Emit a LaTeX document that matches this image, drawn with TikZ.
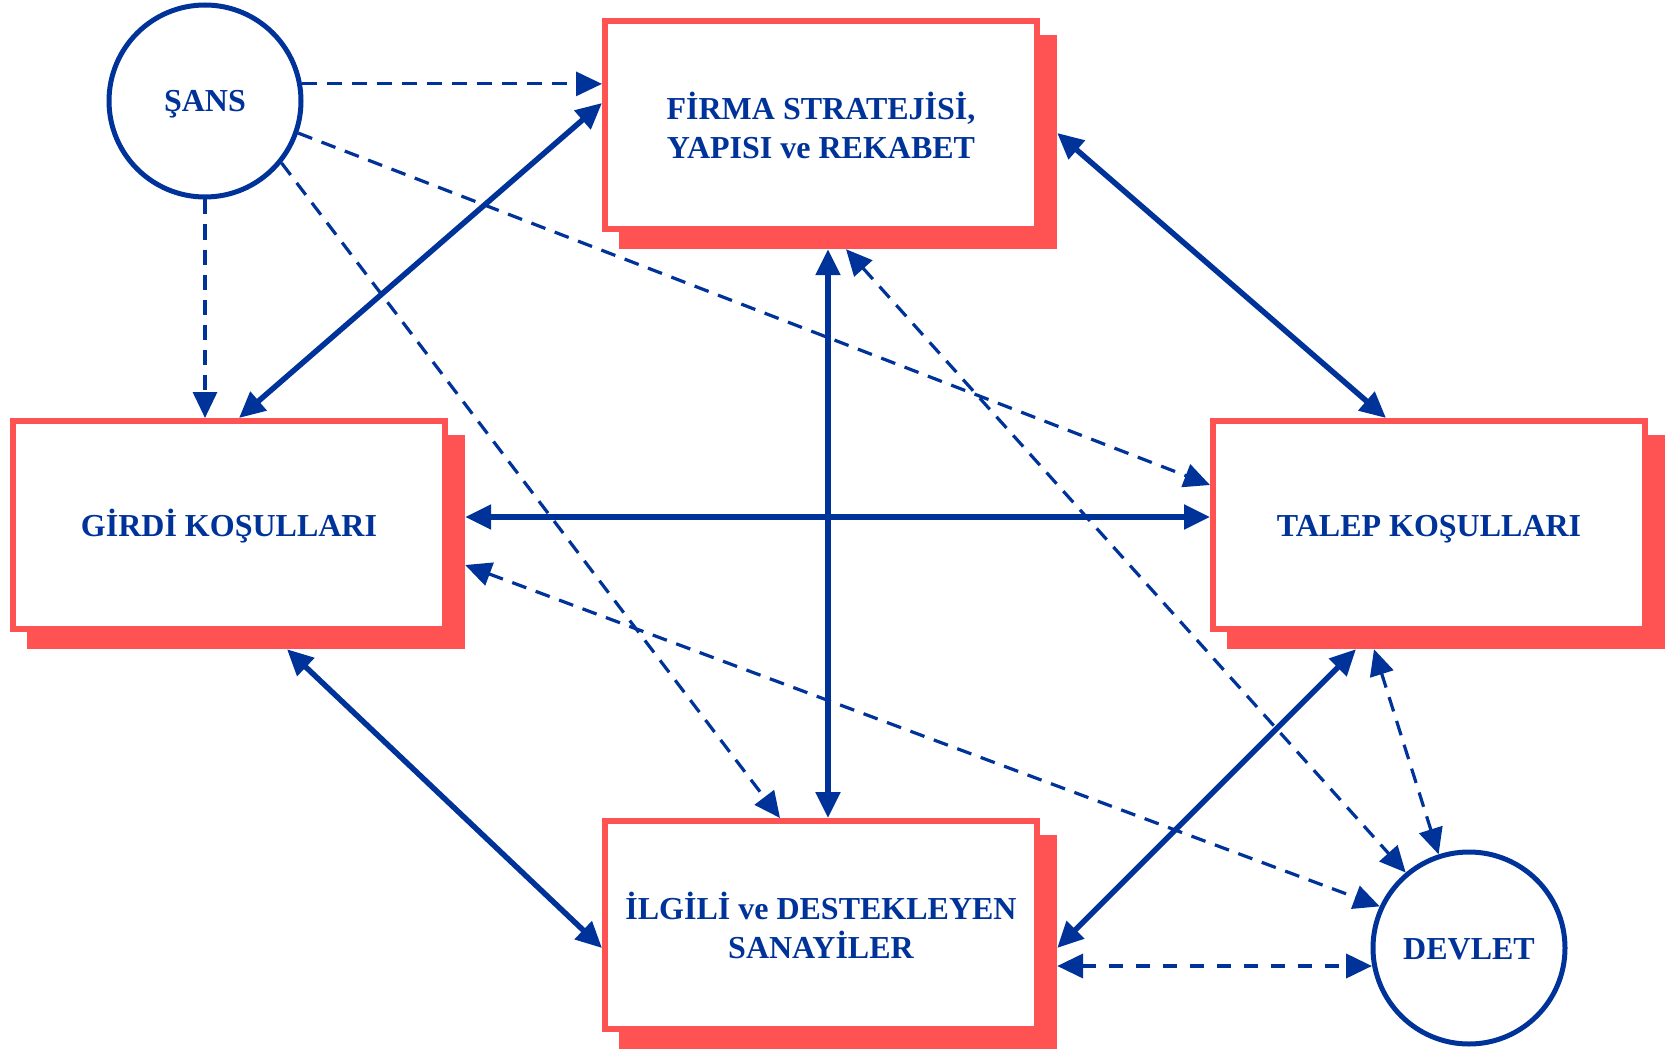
\documentclass[tikz,border=0pt]{standalone}
\usepackage{fontspec}
\setmainfont{Liberation Serif}
\usetikzlibrary{arrows.meta,calc}
\definecolor{dblue}{RGB}{0,51,153}
\definecolor{lred}{RGB}{255,82,82}
\begin{document}
\begin{tikzpicture}[x=1pt,y=-1pt,
  lbl/.style={text=dblue,align=center,font=\fontsize{32}{39}\selectfont\bfseries},
  oneline/.style={text height=22pt,text depth=0pt},
  box/.style={lbl,draw=lred,line width=6pt,fill=white,minimum width=432pt,minimum height=208pt,inner sep=0pt},
  boxshade/.style={fill=lred,minimum width=438pt,minimum height=214pt,inner sep=0pt},
  circ/.style={lbl,oneline,circle,draw=dblue,line width=5pt,fill=white,minimum size=192pt,inner sep=0pt},
  tip/.tip={Triangle[length=26pt,width=24pt]},
  solidboth/.style={draw=dblue,line width=5.5pt,tip-tip},
  dashone/.style={draw=dblue,line width=3.2pt,dash pattern=on 15pt off 10pt,-tip},
  dashboth/.style={draw=dblue,line width=3.2pt,dash pattern=on 15pt off 10pt,tip-tip}
]
\useasboundingbox (0,0) rectangle (1665,1051);
\fill[white] (0,0) rectangle (1665,1051);

% shadows
\node[boxshade] (firmaS)  at (838,142) {};
\node[boxshade] (girdiS)  at (246,542) {};
\node[boxshade] (talepS)  at (1446,542) {};
\node[boxshade] (ilgiliS) at (838,942) {};

% boxes
\node[box] (firma)  at (821,125) {FİRMA STRATEJİSİ,\\YAPISI ve REKABET};
\node[box,oneline] (girdi)  at (229,525) {GİRDİ KOŞULLARI};
\node[box,oneline] (talep)  at (1429,525) {TALEP KOŞULLARI};
\node[box] (ilgili) at (821,925) {İLGİLİ ve DESTEKLEYEN\\SANAYİLER};

% circles
\node[circ] (sans)   at (205,101) {ŞANS};
\node[circ] (devlet) at (1469,948) {DEVLET};

% chance arrows
\draw[dashone] (sans.10) -- (sans.10 -| firma.west);
\draw[dashone] (sans.south) -- (sans.south |- girdi.north);
\draw[dashone] (sans.-19) -- ($(talep.west)+(0,-40)$);
\draw[dashone] (sans.-39) -- ($(ilgili.north)+(-41,0)$);

% diamond arrows
\draw[solidboth] ($(girdi.north)+(10,0)$) -- ($(firma.west)+(0,-22)$);
\draw[solidboth] ($(firmaS.east)+(0,-9)$) -- ($(talep.north)+(-43,0)$);
\draw[solidboth] ($(girdiS.east)+(0,-25)$) -- ($(talep.west)+(0,-8)$);
\draw[solidboth] ($(firmaS.south)+(-10,0)$) -- ($(ilgili.north)+(7,0)$);
\draw[solidboth] ($(girdiS.south)+(41,0)$) -- ($(ilgili.west)+(0,23)$);
\draw[solidboth] ($(talepS.south)+(-90,0)$) -- ($(ilgiliS.east)+(0,6)$);

% government arrows
\draw[dashboth] ($(firmaS.south)+(8,0)$) -- (devlet.130);
\draw[dashboth] ($(girdiS.east)+(0,23)$) -- (devlet.155);
\draw[dashboth] ($(talepS.south)+(-72,0)$) -- (devlet.108);
\coordinate (q) at ($(ilgiliS.east)+(0,24)$);
\draw[dashboth,line width=4pt,dash pattern=on 14pt off 13pt] (q) -- (q -| devlet.190);
\end{tikzpicture}
\end{document}
